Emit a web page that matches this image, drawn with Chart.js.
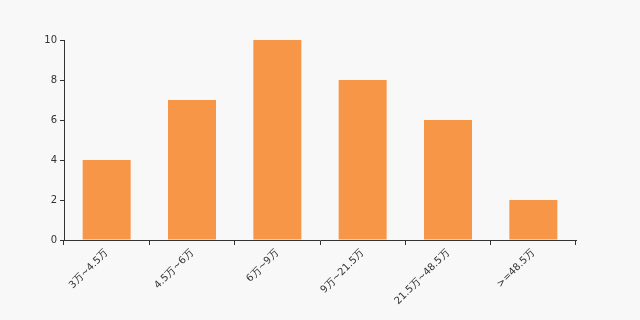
<!DOCTYPE html>
<html>
<head>
<meta charset="utf-8">
<script src="https://cdn.jsdelivr.net/npm/chart.js@4"></script>
<style>
  html, body { margin: 0; padding: 0; background: #f8f8f8; }
  #wrap { width: 640px; height: 320px; }
</style>
</head>
<body>
<div id="wrap"><canvas id="chart"></canvas></div>
<script>
// data
const categories = ['3万~4.5万', '4.5万~6万', '6万~9万', '9万~21.5万', '21.5万~48.5万', '>=48.5万'];
const counts = [4, 7, 10, 8, 6, 2];
const yTicks = [0, 2, 4, 6, 8, 10];

const axisColor = '#333333';
const fontSpec = { family: 'DejaVu Sans', size: 10 };

const ctx = document.getElementById('chart');
new Chart(ctx, {
  type: 'bar',
  data: {
    labels: categories,
    datasets: [{
      data: counts,
      backgroundColor: '#f79646',
      borderWidth: 0,
      categoryPercentage: 1,
      barPercentage: 0.5625
    }]
  },
  options: {
    responsive: true,
    maintainAspectRatio: false,
    animation: false,
    layout: { padding: { top: 40, right: 64, left: 0, bottom: 0 } },
    plugins: { legend: { display: false }, tooltip: { enabled: false } },
    scales: {
      x: {
        offset: true,
        grid: { drawOnChartArea: false, tickLength: 5, color: axisColor, offset: true },
        border: { color: axisColor },
        ticks: {
          color: axisColor, font: fontSpec, autoSkip: false,
          maxRotation: 45, minRotation: 45, padding: 2
        },
        afterFit: function (scale) { scale.height = 80; }
      },
      y: {
        min: 0, max: 10,
        afterBuildTicks: function (scale) { scale.ticks = yTicks.map(v => ({ value: v })); },
        grid: { drawOnChartArea: false, tickLength: 4, color: axisColor },
        border: { color: axisColor },
        ticks: { color: axisColor, font: fontSpec, padding: 3 },
        afterFit: function (scale) { scale.width = 64; }
      }
    }
  }
});
</script>
</body>
</html>
